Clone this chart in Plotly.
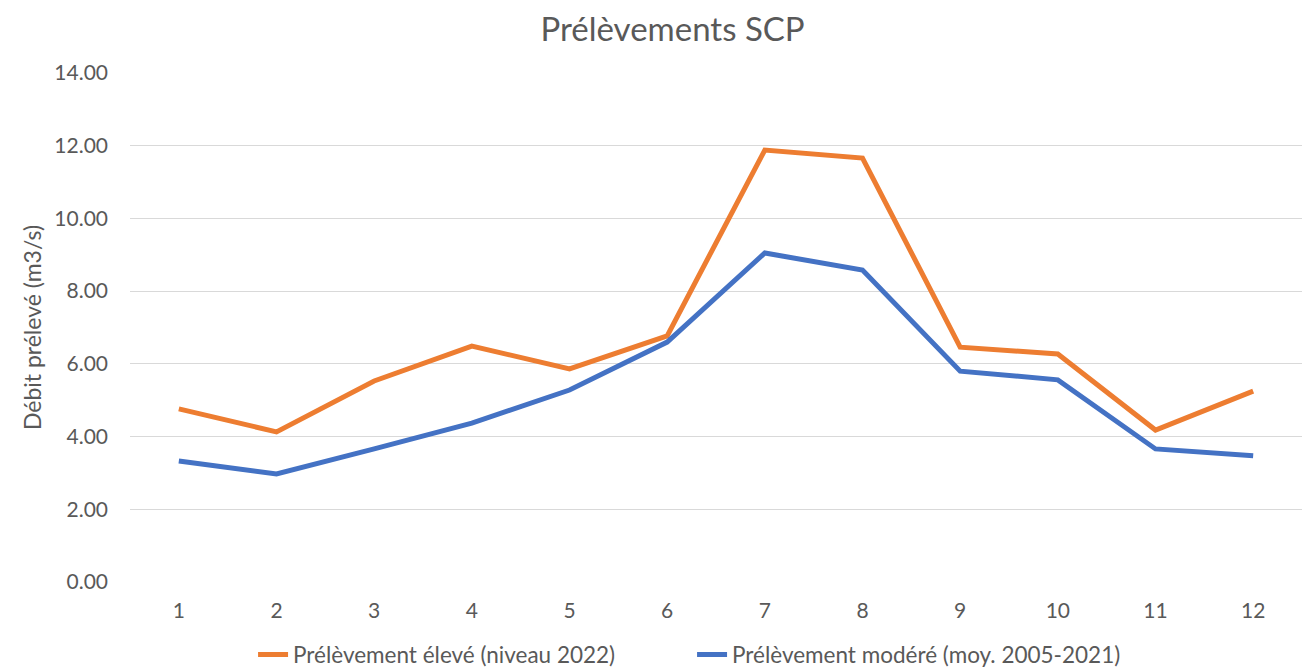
import plotly.graph_objects as go

mois = [1, 2, 3, 4, 5, 6, 7, 8, 9, 10, 11, 12]
eleve_2022 = [4.76, 4.13, 5.53, 6.49, 5.86, 6.77, 11.88, 11.66, 6.46, 6.27, 4.18, 5.25]
modere_moy = [3.33, 2.97, 3.66, 4.37, 5.28, 6.60, 9.05, 8.58, 5.80, 5.56, 3.66, 3.47]
y_ticks = [0, 2, 4, 6, 8, 10, 12, 14]

fig = go.Figure()
fig.add_trace(go.Scatter(x=mois, y=eleve_2022, mode="lines",
                         name="Prélèvement élevé (niveau 2022)",
                         line=dict(color="#ED7D31", width=5)))
fig.add_trace(go.Scatter(x=mois, y=modere_moy, mode="lines",
                         name="Prélèvement modéré (moy. 2005-2021)",
                         line=dict(color="#4472C4", width=5)))

# the page puts the figure 8px in from the corner, margins allow for that
font_fam = "Lato, Open Sans, sans-serif"
fig.update_layout(
    width=1316, height=669,
    margin=dict(l=122, r=22, t=65, b=95),
    paper_bgcolor="white", plot_bgcolor="white",
    font=dict(family=font_fam, color="#595959", size=21),
    title=dict(text="Prélèvements SCP", x=0.505, xanchor="center", y=0.968, yanchor="middle",
               font=dict(size=33, color="#595959", family=font_fam)),
    legend=dict(orientation="h", x=0.105, xanchor="left", yref="container", y=0.033,
                yanchor="middle", font=dict(size=22.5, color="#595959"),
                entrywidth=394, entrywidthmode="pixels"),
    showlegend=True,
)
fig.update_xaxes(range=[0.5, 12.5], tickvals=mois, ticktext=[str(m) for m in mois],
                 showgrid=False, zeroline=False, showline=False, ticks="",
                 ticklabelstandoff=14, automargin=False)
fig.update_yaxes(range=[0, 14], tickvals=y_ticks, ticktext=[f"{v:.2f}" for v in y_ticks],
                 showgrid=True, gridcolor="#D9D9D9", gridwidth=1.3, zeroline=False,
                 showline=False, ticks="", ticklabelstandoff=21, automargin=False,
                 title=dict(text="Débit prélevé (m3/s)",
                            font=dict(size=23, color="#595959"), standoff=6))

fig.write_html("out.html")
